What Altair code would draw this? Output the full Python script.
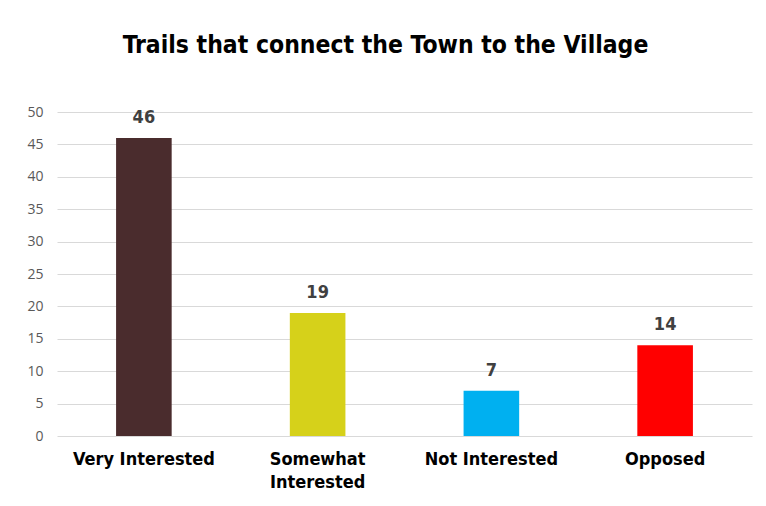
import altair as alt
import pandas as pd

categories = ["Very Interested", "Somewhat Interested", "Not Interested", "Opposed"]
values = [46, 19, 7, 14]
colors = ["#4A2C2D", "#D6D11A", "#00B0F0", "#FF0000"]
y_ticks = [0, 5, 10, 15, 20, 25, 30, 35, 40, 45, 50]

df = pd.DataFrame({"cat": categories, "value": values})

FONT = "DejaVu Sans Condensed"

label_expr = ("datum.value == 'Somewhat Interested' ? ['Somewhat', 'Interested'] : datum.value")

yscale = alt.Scale(domain=[0, 50], nice=False)
yaxis = alt.Axis(values=y_ticks, labelFontSize=14, labelFont="Open Sans",
                 labelColor="#595959", domain=False, ticks=False, labelPadding=14,
                 gridColor="#D9D9D9", gridWidth=1.2, labelOverlap=False)

xenc = alt.X("cat:N", sort=categories, title=None,
             scale=alt.Scale(paddingInner=0.68, paddingOuter=0.34),
             axis=alt.Axis(labelAngle=0, labelFontSize=18, labelFont=FONT, labelFontWeight="bold",
                           labelColor="#000000", domain=False, ticks=False, labelPadding=14,
                           labelExpr=label_expr, labelLineHeight=23, labelBaseline="top"))

bars = alt.Chart(df).mark_bar().encode(
    x=xenc,
    y=alt.Y("value:Q", title=None, scale=yscale, axis=yaxis),
    color=alt.Color("cat:N", sort=categories, scale=alt.Scale(domain=categories, range=colors), legend=None),
)

text = alt.Chart(df).mark_text(dy=-20, fontSize=18, fontWeight="bold", font=FONT, color="#404040").encode(
    x=alt.X("cat:N", sort=categories),
    y=alt.Y("value:Q", scale=yscale, axis=None),
    text=alt.Text("value:Q"),
)

chart = alt.layer(bars, text).resolve_axis(y="independent").properties(
    width=695, height=324,
    title=alt.TitleParams("Trails that connect the Town to the Village", font=FONT, fontSize=24.5,
                          fontWeight="bold", color="#000000", anchor="middle", offset=47, dx=-19),
    autosize=alt.AutoSizeParams(type="none"),
    padding={"left": 49, "top": 104, "right": 6, "bottom": 60},
).configure(background="white").configure_view(stroke=None)

chart.save("out.html", embed_options={"renderer": "svg", "actions": False})
